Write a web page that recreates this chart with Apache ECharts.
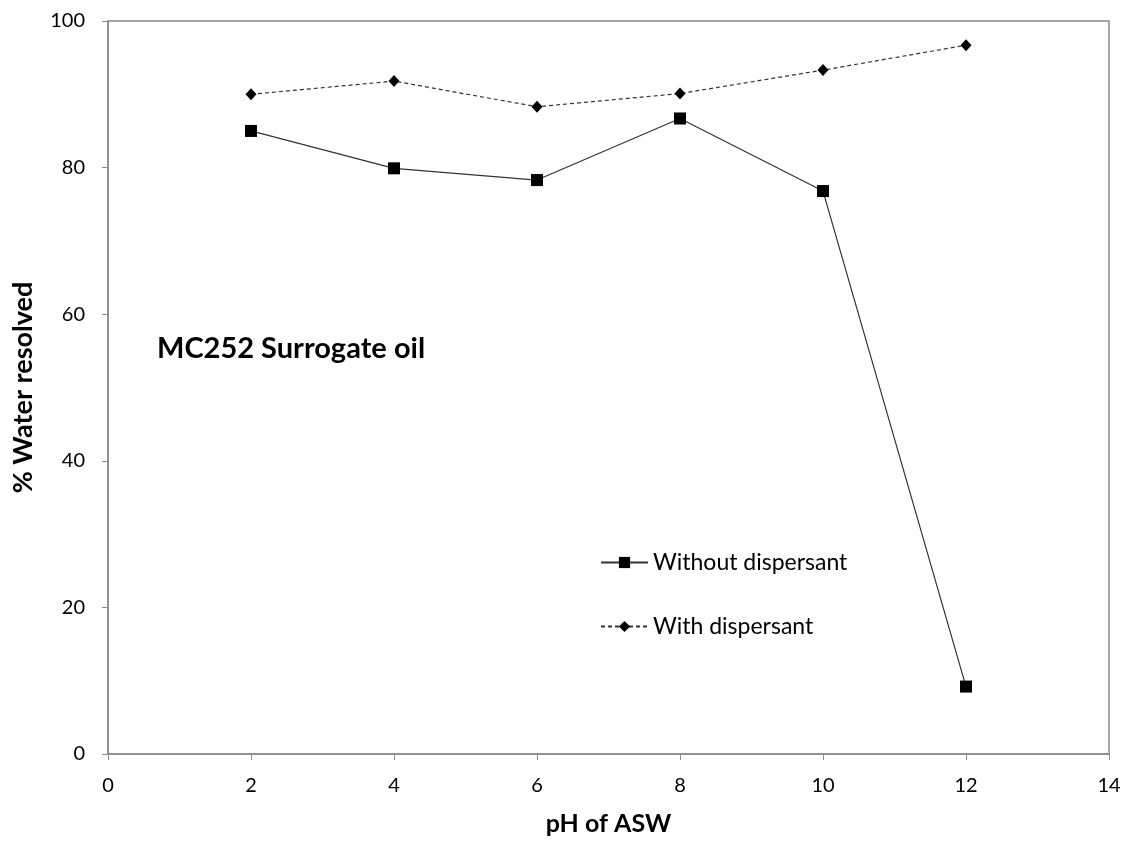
<!DOCTYPE html>
<html>
<head>
<meta charset="utf-8">
<script src="https://cdn.jsdelivr.net/npm/echarts@6/dist/echarts.min.js"></script>
<style>
  html, body { margin: 0; padding: 0; background: #fff; }
  #chart { width: 1129px; height: 844px; }
</style>
</head>
<body>
<div id="chart"></div>
<script>
// pH of artificial seawater vs. percentage of water resolved
const phValues = [2, 4, 6, 8, 10, 12];
const withoutDispersant = [85.0, 79.9, 78.3, 86.7, 76.8, 9.2];
const withDispersant = [90.0, 91.8, 88.3, 90.1, 93.3, 96.7];
const seriesNames = ['Without dispersant', 'With dispersant'];

const FONT = 'Lato, "Open Sans", sans-serif';
const AXIS_GRAY = '#8a8a8a';

const chart = echarts.init(document.getElementById('chart'));

const toPairs = (ys) => phValues.map((x, i) => [x, ys[i]]);

chart.setOption({
  animation: false,
  backgroundColor: '#fff',
  grid: { left: 108, right: 20, top: 21, bottom: 90, show: true, borderColor: AXIS_GRAY, borderWidth: 1.5 },
  xAxis: {
    type: 'value', min: 0, max: 14, interval: 2,
    name: 'pH of ASW', nameLocation: 'middle', nameGap: 57,
    nameTextStyle: { fontFamily: FONT, fontSize: 25, fontWeight: 'bold', color: '#000' },
    axisLine: { show: true, lineStyle: { color: AXIS_GRAY, width: 1.5 } },
    axisTick: { show: true, inside: false, length: 6, lineStyle: { color: AXIS_GRAY } },
    axisLabel: { fontFamily: FONT, fontSize: 20, color: '#000', margin: 22 },
    splitLine: { show: false }
  },
  yAxis: {
    type: 'value', min: 0, max: 100, interval: 20,
    name: '% Water resolved', nameLocation: 'middle', nameGap: 71,
    nameTextStyle: { fontFamily: FONT, fontSize: 27, fontWeight: 'bold', color: '#000' },
    axisLine: { show: true, lineStyle: { color: AXIS_GRAY, width: 1.5 } },
    axisTick: { show: true, inside: false, length: 6, lineStyle: { color: AXIS_GRAY } },
    axisLabel: { fontFamily: FONT, fontSize: 20, color: '#000', margin: 23 },
    splitLine: { show: false }
  },
  legend: {
    orient: 'vertical', left: 600, top: 551, itemGap: 41, padding: 0,
    itemWidth: 47, itemHeight: 14,
    textStyle: { fontFamily: FONT, fontSize: 23, color: '#000' },
    data: seriesNames
  },
  graphic: [{
    type: 'text', left: 157, top: 334,
    style: { text: 'MC252 Surrogate oil', font: 'bold 29px ' + FONT, fill: '#000' }
  }],
  series: [
    {
      name: seriesNames[0], type: 'line', data: toPairs(withoutDispersant),
      symbol: 'rect', symbolSize: 12,
      lineStyle: { color: '#333', width: 1.2, type: 'solid' },
      itemStyle: { color: '#000' }
    },
    {
      name: seriesNames[1], type: 'line', data: toPairs(withDispersant),
      symbol: 'diamond', symbolSize: [11, 12],
      lineStyle: { color: '#333', width: 1.2, type: [4, 3] },
      itemStyle: { color: '#000' }
    }
  ]
});
</script>
</body>
</html>
